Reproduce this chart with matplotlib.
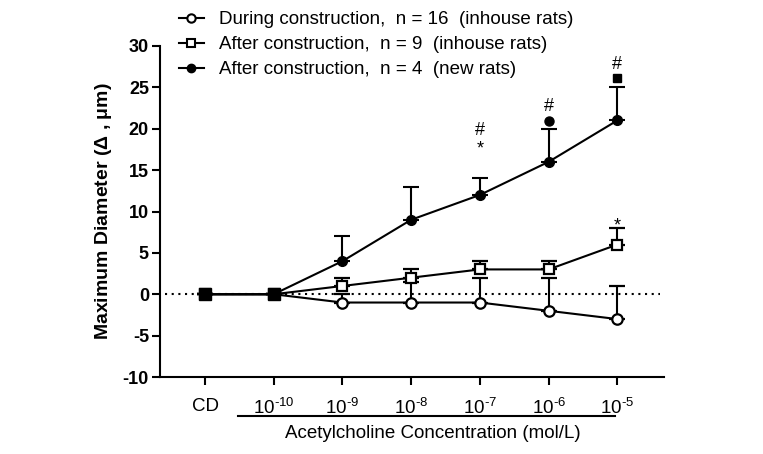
import matplotlib
matplotlib.use("Agg")
import matplotlib.pyplot as plt
from matplotlib.lines import Line2D
import numpy as np

plt.rcParams["font.family"] = ["Liberation Sans", "DejaVu Sans"]
plt.rcParams["mathtext.default"] = "regular"
plt.rcParams["axes.unicode_minus"] = False

# x categories: control diameter + ACh concentrations (U+2010 hyphen in exponents)
tick_labels = ["CD", "10$^{\u201010}$", "10$^{\u20109}$", "10$^{\u20108}$",
               "10$^{\u20107}$", "10$^{\u20106}$", "10$^{\u20105}$"]

during_mean = [0, 0, -1, -1, -1, -2, -3]
during_err = [0, 0, 1, 2.5, 3, 4, 4]

after_mean = [0, 0, 1, 2, 3, 3, 6]
after_err = [0, 0, 1, 1, 1, 1, 2]

new_mean = [0, 0, 4, 9, 12, 16, 21]
new_err = [0, 0, 3, 4, 2, 4, 4]

labels = ["During construction,  n = 16  (inhouse rats)",
          "After construction,  n = 9  (inhouse rats)",
          "After construction,  n = 4  (new rats)"]

# significance marks: (x index, y value, text)
sig_marks = [(4, 19.8, "#"), (4, 17.6, "*"), (5, 22.7, "#"), (6, 27.8, "#"), (6, 8.3, "*")]

x = np.arange(len(tick_labels))

fig = plt.figure(figsize=(7.63, 4.54), dpi=100)
ax = fig.add_axes([160 / 763, 77 / 454, 504 / 763, 331 / 454])

lw = 1.5
ax.axhline(0, xmin=0.01, xmax=0.992, color="black", lw=lw, dashes=(1, 2.2), zorder=1)

common = dict(color="black", lw=lw, capsize=5.5, capthick=lw, elinewidth=lw)
ax.errorbar(x, during_mean, yerr=[np.zeros(len(x)), during_err], marker="o", ms=7.5,
            mfc="white", mec="black", mew=1.6, zorder=3, **common)
ax.errorbar(x, after_mean, yerr=[np.zeros(len(x)), after_err], marker="s", ms=7.5,
            mfc="white", mec="black", mew=1.6, zorder=4, **common)
ax.errorbar(x, new_mean, yerr=[np.zeros(len(x)), new_err], marker="o", ms=7,
            mfc="black", mec="black", zorder=5, **common)

# shared baseline points drawn as filled squares
ax.plot(x[:2], new_mean[:2], "s", color="black", ms=8, zorder=6)

for xi, yi, txt in sig_marks:
    ax.text(xi, yi, txt, ha="center", va="center", fontsize=13)
# stray symbols in the original figure
ax.plot([5], [20.9], "o", color="black", ms=6.5)
ax.plot([6], [26.1], "s", color="black", ms=6)

ax.set_xlim(-0.655, 6.68)
ax.set_ylim(-10, 30)
ax.set_yticks(np.arange(-10, 31, 5))
ax.set_xticks(x)
ax.set_xticklabels(tick_labels, fontsize=13.5)
for t in ax.get_yticklabels():
    t.set_fontweight("bold")
    t.set_fontsize(13)

for side in ["top", "right"]:
    ax.spines[side].set_visible(False)
for side in ["left", "bottom"]:
    ax.spines[side].set_linewidth(lw)
ax.tick_params(axis="both", width=lw, length=6, direction="out")
ax.tick_params(axis="x", pad=9)
ax.tick_params(axis="y", pad=2)

ax.set_ylabel(r"Maximum Diameter ($\Delta$ , $\mu$m)", fontsize=14, fontweight="bold", labelpad=6)

# bracket line under the concentration ticks and its label
trans = ax.get_xaxis_transform()
ax.plot([0.48, 5.97], [-0.118, -0.118], color="black", lw=lw, transform=trans, clip_on=False)
ax.text(3.32, -0.17, "Acetylcholine Concentration (mol/L)", transform=trans,
        ha="center", va="center", fontsize=13.5)

handles = [
    Line2D([], [], color="black", lw=lw, marker="o", ms=6, mfc="white", mew=1.5),
    Line2D([], [], color="black", lw=lw, marker="s", ms=6, mfc="white", mew=1.5),
    Line2D([], [], color="black", lw=lw, marker="o", ms=6, mfc="black"),
]
fig.legend(handles, labels, loc="upper left", bbox_to_anchor=(168 / 763, 1.0),
           frameon=False, fontsize=13.5, handlelength=1.3, handletextpad=0.8,
           labelspacing=0.42, borderaxespad=0.2)

fig.savefig("out.png", dpi=100)
